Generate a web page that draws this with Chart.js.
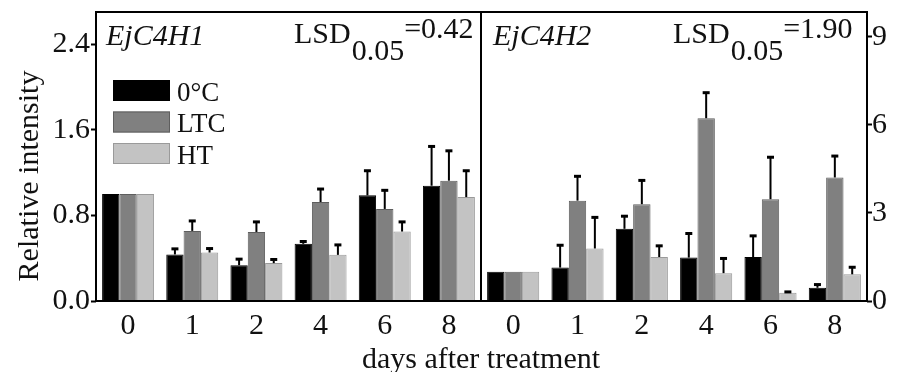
<!DOCTYPE html>
<html>
<head>
<meta charset="utf-8">
<script src="https://cdn.jsdelivr.net/npm/chart.js@4.4.0/dist/chart.umd.min.js"></script>
<style>
  html, body { margin: 0; padding: 0; background: #fff; }
  #wrap { position: relative; width: 911px; height: 372px; }
  #wrap canvas { position: absolute; left: 0; top: 0; }
</style>
</head>
<body>
<div id="wrap">
  <canvas id="left" width="911" height="372"></canvas>
  <canvas id="right" width="911" height="372"></canvas>
</div>
<script>
// ---- data ----
const days = ['0', '1', '2', '4', '6', '8'];
const seriesNames = ['0°C', 'LTC', 'HT'];

// EjC4H1 (left axis)
const c4h1_0C  = [1.00, 0.435, 0.335, 0.534, 0.987, 1.077];
const c4h1_LTC = [1.00, 0.655, 0.645, 0.925, 0.860, 1.124];
const c4h1_HT  = [1.00, 0.453, 0.354, 0.431, 0.649, 0.971];
const c4h1_0C_err  = [0, 0.052, 0.056, 0.022, 0.230, 0.367];
const c4h1_LTC_err = [0, 0.093, 0.094, 0.121, 0.174, 0.279];
const c4h1_HT_err  = [0, 0.037, 0.034, 0.093, 0.090, 0.246];

// EjC4H2 (right axis)
const c4h2_0C  = [1.00, 1.14, 2.46, 1.48, 1.50, 0.45];
const c4h2_LTC = [1.00, 3.42, 3.30, 6.23, 3.47, 4.21];
const c4h2_HT  = [1.00, 1.79, 1.50, 0.95, 0.28, 0.91];
const c4h2_0C_err  = [0, 0.76, 0.43, 0.82, 0.72, 0.11];
const c4h2_LTC_err = [0, 0.83, 0.81, 0.87, 1.43, 0.73];
const c4h2_HT_err  = [0, 1.06, 0.38, 0.50, 0.03, 0.24];

const leftTicks = [0, 0.8, 1.6, 2.4];
const rightTicks = [0, 3, 6, 9];
const leftMax = 2.7;
const rightMax = 9.85;

const gene1 = 'EjC4H1';
const gene2 = 'EjC4H2';
const lsd1 = '0.42';
const lsd2 = '1.90';
const yTitle = 'Relative intensity';
const xTitle = 'days after treatment';

// ---- styles ----
const fills = ['#000000', '#808080', '#c3c3c3'];
const borders = ['#000000', '#5e5e5e', '#9a9a9a'];
const SERIF = '"Liberation Serif", "Times New Roman", serif';

function makeDatasets(arrs) {
  return arrs.map((d, i) => ({
    label: seriesNames[i],
    data: d,
    backgroundColor: fills[i],
    borderColor: borders[i],
    borderWidth: 1,
    categoryPercentage: 0.81,
    barPercentage: 1.0
  }));
}

const errPlugin = {
  id: 'errbars',
  afterDatasetsDraw(chart, args, opts) {
    const ctx = chart.ctx;
    const ys = chart.scales.y;
    chart.data.datasets.forEach((ds, i) => {
      const meta = chart.getDatasetMeta(i);
      meta.data.forEach((bar, j) => {
        const e = opts.errors[i][j];
        if (!e) return;
        const yTop = ys.getPixelForValue(ds.data[j] + e);
        ctx.save();
        ctx.strokeStyle = '#000';
        ctx.lineWidth = 2;
        ctx.beginPath();
        ctx.moveTo(bar.x, bar.y);
        ctx.lineTo(bar.x, yTop);
        ctx.stroke();
        ctx.lineWidth = 3;
        ctx.beginPath();
        ctx.moveTo(bar.x - 3.5, yTop);
        ctx.lineTo(bar.x + 3.5, yTop);
        ctx.stroke();
        ctx.restore();
      });
    });
  }
};

const framePlugin = {
  id: 'frame',
  afterDraw(chart) {
    const a = chart.chartArea;
    const ctx = chart.ctx;
    ctx.save();
    ctx.strokeStyle = '#000';
    ctx.lineWidth = 2;
    ctx.strokeRect(a.left, a.top, a.right - a.left, a.bottom - a.top);
    ctx.restore();
  }
};

function drawLSD(ctx, x, value) {
  ctx.save();
  ctx.fillStyle = '#111';
  ctx.textAlign = 'left';
  ctx.textBaseline = 'alphabetic';
  ctx.font = '30px ' + SERIF;
  ctx.fillText('LSD', x, 43);
  let w = ctx.measureText('LSD').width;
  ctx.fillText('0.05', x + w + 1, 60);
  let w2 = ctx.measureText('0.05').width;
  ctx.fillText('=' + value, x + w + w2 + 1, 38);
  ctx.restore();
}

const textPlugin = {
  id: 'texts',
  afterDraw(chart, args, opts) {
    const ctx = chart.ctx;
    ctx.save();
    ctx.fillStyle = '#111';
    ctx.font = 'italic 30px ' + SERIF;
    ctx.textAlign = 'left';
    ctx.textBaseline = 'alphabetic';
    ctx.fillText(opts.gene, opts.geneX, 45);
    drawLSD(ctx, opts.lsdX, opts.lsd);
    if (opts.main) {
      // y title
      ctx.save();
      ctx.font = '30px ' + SERIF;
      ctx.translate(38, 176);
      ctx.rotate(-Math.PI / 2);
      ctx.textAlign = 'center';
      ctx.fillText(yTitle, 0, 0);
      ctx.restore();
      // x title
      ctx.font = '30px ' + SERIF;
      ctx.textAlign = 'center';
      ctx.fillText(xTitle, 481, 368);
      // legend
      const bx = 113, bw = 57, bh = 21;
      const tops = [80, 111.5, 143];
      chart.data.datasets.forEach((ds, i) => {
        ctx.fillStyle = fills[i];
        ctx.fillRect(bx, tops[i], bw, bh);
        ctx.strokeStyle = borders[i];
        ctx.lineWidth = 1;
        ctx.strokeRect(bx + 0.5, tops[i] + 0.5, bw - 1, bh - 1);
        ctx.fillStyle = '#111';
        ctx.font = '27px ' + SERIF;
        ctx.textAlign = 'left';
        ctx.fillText(ds.label, 177, tops[i] + bh / 2 + 10);
      });
    }
    ctx.restore();
  }
};

function baseOptions(side) {
  const isLeft = side === 'left';
  return {
    responsive: false,
    devicePixelRatio: 1,
    animation: false,
    events: [],
    layout: {
      padding: isLeft ? { left: 0, right: 430, top: 12, bottom: 0 }
                      : { left: 481, right: 0, top: 12, bottom: 0 }
    },
    plugins: {
      legend: { display: false },
      tooltip: { enabled: false },
      title: { display: false }
    },
    scales: {
      x: {
        type: 'category',
        offset: true,
        grid: { display: false },
        border: { display: false },
        ticks: {
          color: '#111',
          font: { family: SERIF, size: 30 },
          padding: -1,
          maxRotation: 0,
          autoSkip: false
        },
        afterFit(scale) {
          scale.height = 71;
          scale.paddingLeft = 0; scale.paddingRight = 0;
        }
      },
      y: {
        position: isLeft ? 'left' : 'right',
        min: 0,
        max: isLeft ? leftMax : rightMax,
        afterBuildTicks(scale) {
          scale.ticks = (isLeft ? leftTicks : rightTicks).map(v => ({ value: v }));
        },
        grid: {
          display: true,
          drawOnChartArea: false,
          drawTicks: true,
          tickLength: 5,
          tickColor: '#000',
          tickWidth: 2
        },
        border: { display: false },
        ticks: {
          color: '#111',
          font: { family: SERIF, size: 30 },
          padding: isLeft ? 1 : 0,
          callback: v => isLeft ? Number(v).toFixed(1) : String(v)
        },
        afterFit(scale) {
          scale.width = isLeft ? 96 : 44;
          scale.paddingTop = 0; scale.paddingBottom = 0;
        }
      }
    }
  };
}

const leftOpts = baseOptions('left');
leftOpts.plugins.errbars = { errors: [c4h1_0C_err, c4h1_LTC_err, c4h1_HT_err] };
leftOpts.plugins.texts = { gene: gene1, geneX: 106, lsd: lsd1, lsdX: 294, main: true };

new Chart(document.getElementById('left'), {
  type: 'bar',
  data: { labels: days, datasets: makeDatasets([c4h1_0C, c4h1_LTC, c4h1_HT]) },
  options: leftOpts,
  plugins: [errPlugin, framePlugin, textPlugin]
});

const rightOpts = baseOptions('right');
rightOpts.plugins.errbars = { errors: [c4h2_0C_err, c4h2_LTC_err, c4h2_HT_err] };
rightOpts.plugins.texts = { gene: gene2, geneX: 493, lsd: lsd2, lsdX: 673, main: false };

new Chart(document.getElementById('right'), {
  type: 'bar',
  data: { labels: days, datasets: makeDatasets([c4h2_0C, c4h2_LTC, c4h2_HT]) },
  options: rightOpts,
  plugins: [errPlugin, framePlugin, textPlugin]
});
</script>
</body>
</html>
